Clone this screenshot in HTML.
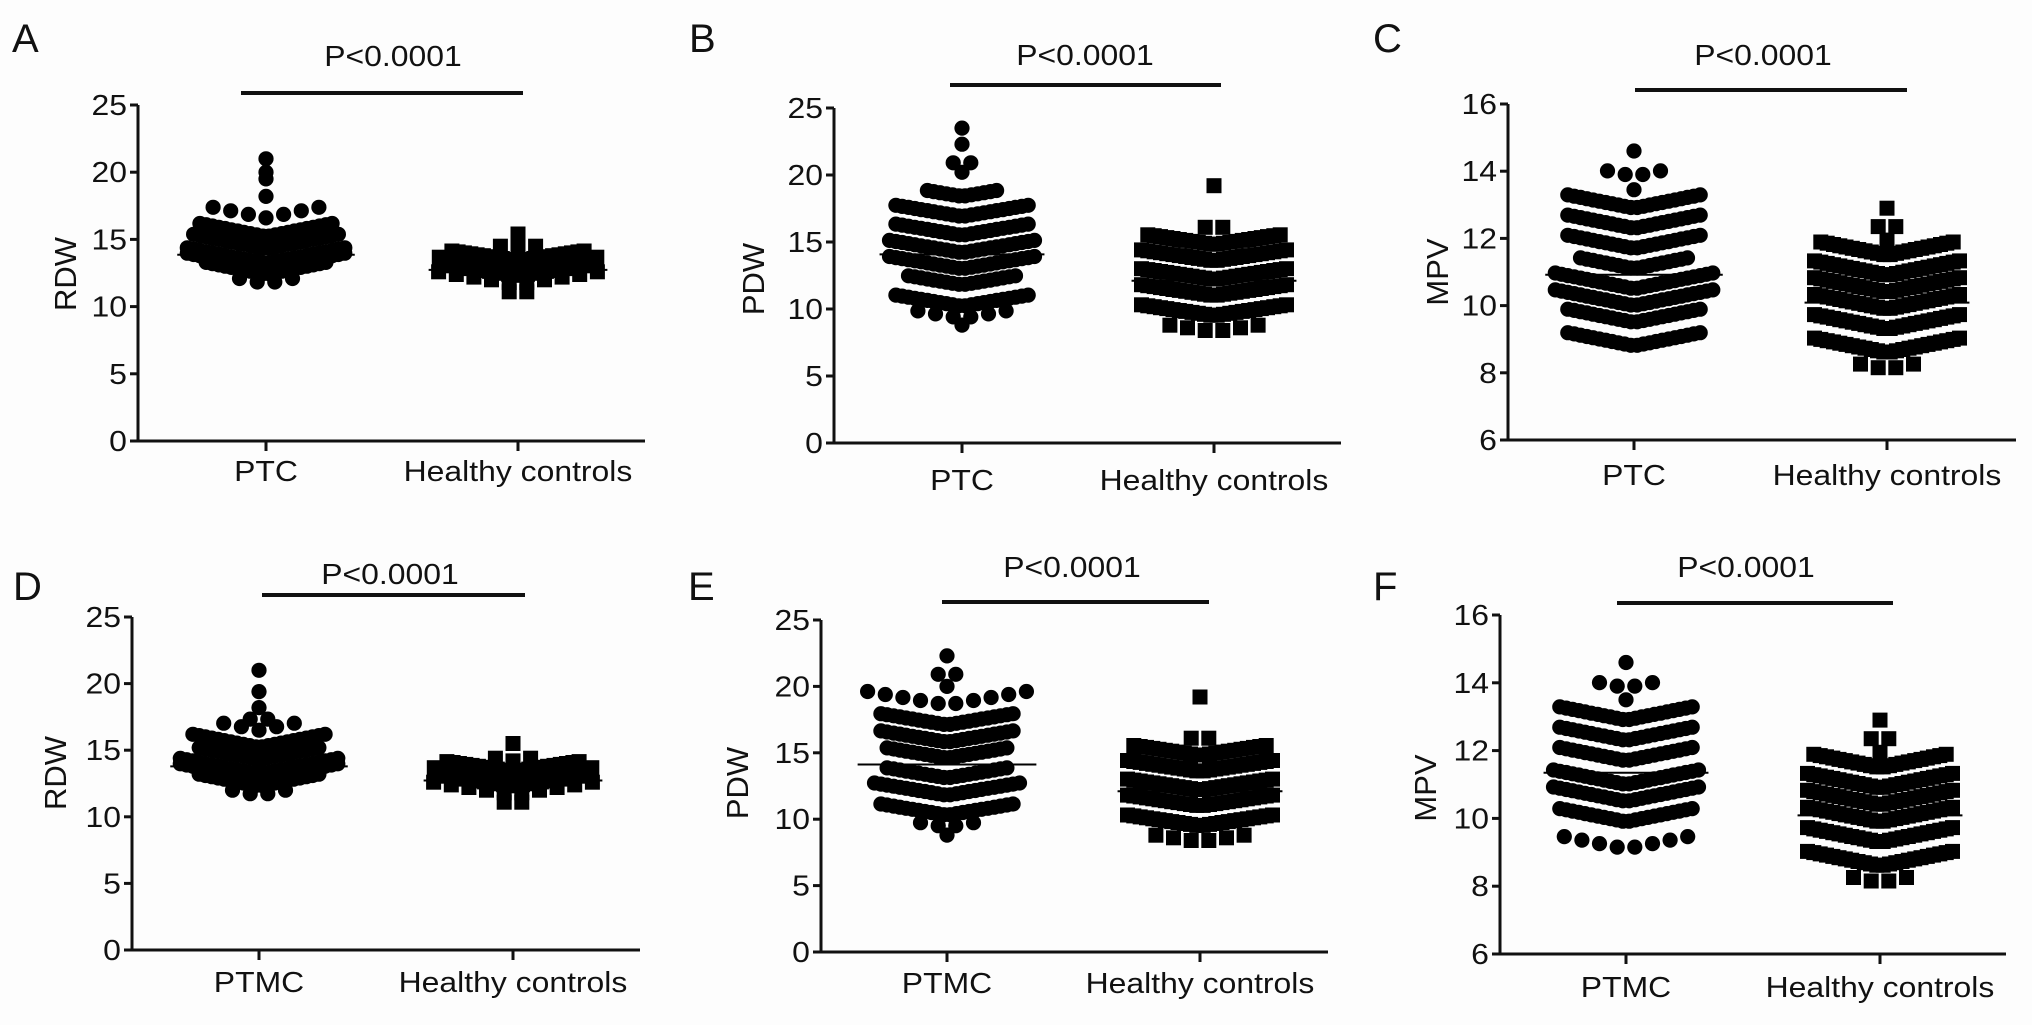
<!DOCTYPE html>
<html><head><meta charset="utf-8">
<style>
html,body{margin:0;padding:0;background:#fff;}
svg{display:block;}
text{font-family:"Liberation Sans",Arial,sans-serif;fill:#111;}
</style></head>
<body>
<svg id="fig" width="2032" height="1025" viewBox="0 0 2032 1025" xmlns="http://www.w3.org/2000/svg">
<rect x="0" y="0" width="2032" height="1025" fill="#fdfdfd"/>
</svg>
<script>
// ---- data (value levels and number of subjects at each level) ----
const ticksRDW = [0, 5, 10, 15, 20, 25];
const ticksPDW = [0, 5, 10, 15, 20, 25];
const ticksMPV = [6, 8, 10, 12, 14, 16];
const catsPTC = ["PTC", "Healthy controls"];
const catsPTMC = ["PTMC", "Healthy controls"];

const aPtcValues = [21.0, 20.0, 19.5, 18.2, 16.6, 15.2, 14.3, 13.2, 12.8, 12.4, 11.7];
const aPtcCounts = [1, 1, 1, 1, 7, 22, 24, 26, 26, 20, 4];
const aHcValues = [15.4, 14.3, 13.4, 12.8, 12.3, 11.7, 11.0];
const aHcCounts = [1, 3, 22, 26, 24, 10, 2];

const bPtcValues = [23.5, 22.3, 20.8, 20.2, 18.4, 16.9, 15.5, 14.2, 13.0, 11.8, 10.2, 9.3, 8.8];
const bPtcCounts = [1, 1, 2, 1, 12, 22, 22, 24, 24, 18, 22, 6, 1];
const bHcValues = [19.2, 16.0, 14.8, 13.6, 12.2, 11.0, 9.5, 8.3];
const bHcCounts = [1, 2, 22, 24, 24, 24, 24, 6];

const cPtcValues = [14.6, 13.85, 13.45, 12.9, 12.3, 11.7, 11.1, 10.5, 10.0, 9.5, 8.8];
const cPtcCounts = [1, 4, 1, 22, 22, 22, 18, 26, 26, 22, 22];
const cHcValues = [12.9, 12.3, 11.95, 11.5, 10.9, 10.4, 9.9, 9.3, 8.6, 8.1];
const cHcCounts = [1, 2, 1, 22, 24, 24, 24, 24, 24, 4];

const dPtcValues = [21.0, 19.4, 18.2, 17.2, 16.5, 15.2, 14.3, 13.2, 12.8, 12.3, 11.6];
const dPtcCounts = [1, 1, 1, 2, 5, 22, 20, 26, 26, 20, 4];
const dHcValues = [15.5, 14.2, 13.4, 12.8, 12.3, 11.7, 11.0];
const dHcCounts = [1, 3, 22, 26, 24, 10, 2];

const ePtcValues = [22.3, 20.8, 20.0, 18.6, 17.1, 15.8, 14.6, 13.1, 11.8, 10.3, 9.4, 8.8];
const ePtcCounts = [1, 2, 1, 10, 22, 22, 20, 20, 24, 22, 4, 1];
const eHcValues = [19.2, 16.0, 14.8, 13.6, 12.2, 11.0, 9.5, 8.3];
const eHcCounts = [1, 2, 22, 24, 24, 24, 24, 6];

const fPtcValues = [14.6, 13.85, 13.5, 12.9, 12.3, 11.7, 11.0, 10.5, 9.9, 9.1];
const fPtcCounts = [1, 4, 1, 22, 22, 22, 24, 24, 22, 8];
const fHcValues = [12.9, 12.3, 11.95, 11.5, 10.9, 10.4, 9.9, 9.3, 8.6, 8.1];
const fHcCounts = [1, 2, 1, 22, 24, 24, 24, 24, 24, 4];

// ---- layout ----
const NS = "http://www.w3.org/2000/svg";
const svg = document.getElementById("fig");
const stretchEls = [];
function mk(tag, attrs, parent) {
  const e = document.createElementNS(NS, tag);
  for (const k in attrs) e.setAttribute(k, attrs[k]);
  (parent || svg).appendChild(e);
  return e;
}
function txt(str, x, y, size, anchor, parent, stretch) {
  const t = mk("text", {x: x, y: y, "font-size": size, "text-anchor": anchor}, parent);
  t.textContent = str;
  if (stretch) stretchEls.push(t);
  return t;
}

const panels = [
  {key:"a", letter:"A", lx:12, ly:52, ax:138, yTop:105, yBot:441, xEnd:645, cx:[266,518], bar:[241,523,93], pX:393, pY:66, xlY:481, ylX:76, ylY:274, ylab:"RDW", ticks:ticksRDW, cats:catsPTC, curve:[0.2,0.15],
   groups:[[aPtcValues,aPtcCounts,"circle"],[aHcValues,aHcCounts,"square"]]},
  {key:"b", letter:"B", lx:689, ly:52, ax:834, yTop:108, yBot:443, xEnd:1341, cx:[962,1214], bar:[950,1221,85], pX:1085, pY:65, xlY:490, ylX:764, ylY:279, ylab:"PDW", ticks:ticksPDW, cats:catsPTC, curve:[0.17,0.15],
   groups:[[bPtcValues,bPtcCounts,"circle"],[bHcValues,bHcCounts,"square"]]},
  {key:"c", letter:"C", lx:1373, ly:52, ax:1508, yTop:104, yBot:440, xEnd:2016, cx:[1634,1887], bar:[1635,1907,90], pX:1763, pY:65, xlY:485, ylX:1448, ylY:272, ylab:"MPV", ticks:ticksMPV, cats:catsPTC, curve:[0.2,0.2],
   groups:[[cPtcValues,cPtcCounts,"circle"],[cHcValues,cHcCounts,"square"]]},
  {key:"d", letter:"D", lx:13, ly:600, ax:132, yTop:617, yBot:950, xEnd:640, cx:[259,513], bar:[262,525,595], pX:390, pY:584, xlY:992, ylX:66, ylY:773, ylab:"RDW", ticks:ticksRDW, cats:catsPTMC, curve:[0.2,0.15],
   groups:[[dPtcValues,dPtcCounts,"circle"],[dHcValues,dHcCounts,"square"]]},
  {key:"e", letter:"E", lx:688, ly:600, ax:821, yTop:620, yBot:952, xEnd:1328, cx:[947,1200], bar:[942,1209,602], pX:1072, pY:577, xlY:993, ylX:748, ylY:783, ylab:"PDW", ticks:ticksPDW, cats:catsPTMC, curve:[0.17,0.15],
   groups:[[ePtcValues,ePtcCounts,"circle"],[eHcValues,eHcCounts,"square"]]},
  {key:"f", letter:"F", lx:1373, ly:600, ax:1500, yTop:615, yBot:954, xEnd:2006, cx:[1626,1880], bar:[1617,1893,603], pX:1746, pY:577, xlY:997, ylX:1436, ylY:788, ylab:"MPV", ticks:ticksMPV, cats:catsPTMC, curve:[0.2,0.2],
   groups:[[fPtcValues,fPtcCounts,"circle"],[fHcValues,fHcCounts,"square"]]}
];

const STEP = 6.3;
panels.forEach(function(p) {
  const g = mk("g", {});
  
  
  const ymin = p.ticks[0], ymax = p.ticks[p.ticks.length - 1];
  const yScale = function(v) { return p.yBot - (v - ymin) / (ymax - ymin) * (p.yBot - p.yTop); };

  const lt = txt(p.letter, p.lx, p.ly, 40, "start", g, false);
  
  

  p.groups.forEach(function(gr, gi) {
    const vals = gr[0], cnts = gr[1], shape = gr[2], cx = p.cx[gi], curve = p.curve[gi];
    const sg = mk("g", {fill: "#000"}, g);
    
    
    let sum = 0, n = 0, maxW = 0;
    vals.forEach(function(v, li) {
      const c = cnts[li];
      sum += v * c; n += c;
      for (let i = 0; i < c; i++) {
        const dx = (i - (c - 1) / 2) * STEP * (c < 12 ? 2.8 : 1);
        maxW = Math.max(maxW, Math.abs(dx));
        const x = cx + dx;
        const y = yScale(v) - curve * Math.abs(dx);
        let el;
        if (shape === "circle") {
          el = mk("circle", {cx: x.toFixed(1), cy: y.toFixed(1), r: 7.6}, sg);
          
        } else {
          el = mk("rect", {x: (x - 7.5).toFixed(1), y: (y - 7.5).toFixed(1), width: 15, height: 15}, sg);
          
        }
        
      }
    });
    const mean = sum / n;
    const ml = mk("line", {x1: cx - maxW - 10, x2: cx + maxW + 10, y1: yScale(mean), y2: yScale(mean), stroke: "#000", "stroke-width": 2}, g);
    
    
  });

  const ya = mk("line", {x1: p.ax, x2: p.ax, y1: p.yTop, y2: p.yBot + 1.5, stroke: "#111", "stroke-width": 3}, g);
  
  
  const xa = mk("line", {x1: p.ax - 8, x2: p.xEnd, y1: p.yBot, y2: p.yBot, stroke: "#111", "stroke-width": 3}, g);
  
  
  p.ticks.forEach(function(t) {
    const y = yScale(t);
    const tk = mk("line", {x1: p.ax - 8, x2: p.ax, y1: y, y2: y, stroke: "#111", "stroke-width": 3}, g);
    
    
    const tl = txt(String(t), p.ax - 11, y + 10, 29, "end", g, true);
    
    
  });
  p.cats.forEach(function(c, i) {
    const tk = mk("line", {x1: p.cx[i], x2: p.cx[i], y1: p.yBot, y2: p.yBot + 10, stroke: "#111", "stroke-width": 3}, g);
    
    
    const cl = txt(c, p.cx[i], p.xlY, 29, "middle", g, true);
    
    
  });
  const yl = txt(p.ylab, 0, 0, 31, "middle", g, false);
  yl.setAttribute("transform", "translate(" + p.ylX + "," + p.ylY + ") rotate(-90)");
  
  

  const sb = mk("line", {x1: p.bar[0], x2: p.bar[1], y1: p.bar[2], y2: p.bar[2], stroke: "#111", "stroke-width": 4}, g);
  
  
  const pt = txt("P<0.0001", p.pX, p.pY, 29, "middle", g, true);
  
  
});

stretchEls.forEach(function(t) {
  const w = t.getComputedTextLength();
  t.setAttribute("textLength", (w * 1.1).toFixed(1));
  t.setAttribute("lengthAdjust", "spacingAndGlyphs");
});
</script>
</body></html>
